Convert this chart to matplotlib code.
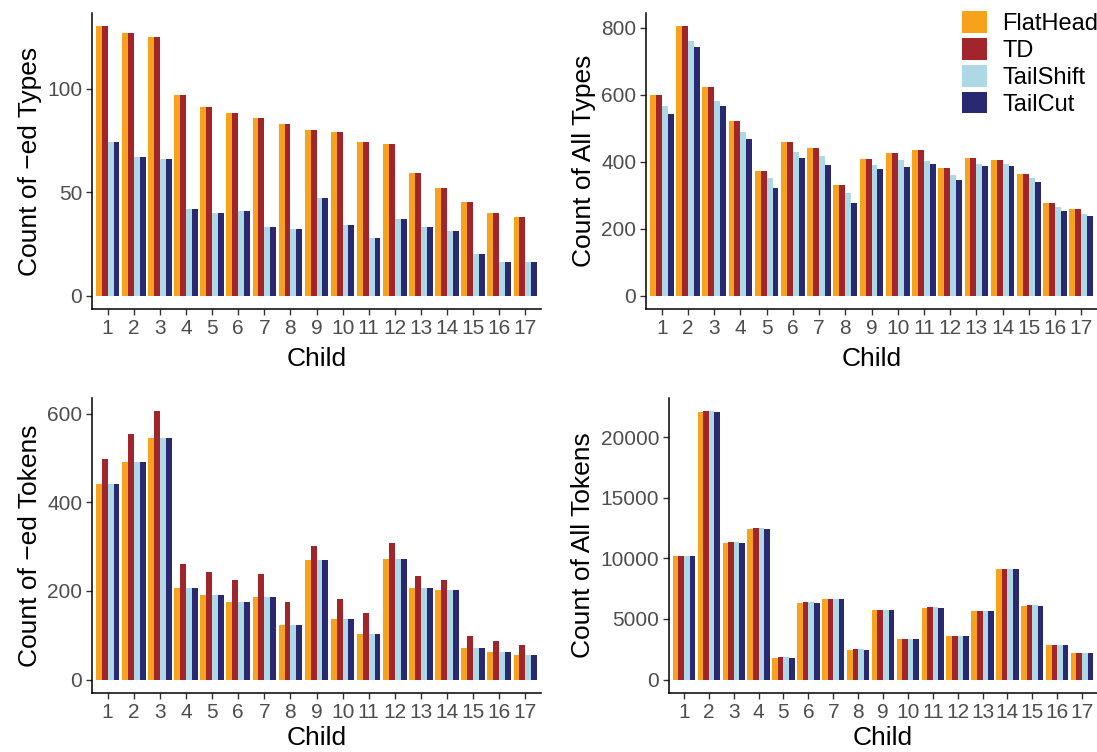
import numpy as np
import matplotlib
matplotlib.use('Agg')
import matplotlib.pyplot as plt
from matplotlib.patches import Patch

plt.rcParams['font.family'] = ['Liberation Sans', 'DejaVu Sans']

# ── data ───────────────────────────────────────────
children = [str(i) for i in range(1, 18)]
methods = ['FlatHead', 'TD', 'TailShift', 'TailCut']
colors = ['#F7A21D', '#A1252B', '#ADD8E6', '#2B2872']

# -ed types
ed_types_flathead = [130, 127, 125, 97, 91, 88, 86, 83, 80, 79, 74, 73, 59, 52, 45, 40, 38]
ed_types_td = [130, 127, 125, 97, 91, 88, 86, 83, 80, 79, 74, 73, 59, 52, 45, 40, 38]
ed_types_tailshift = [74, 67, 66, 42, 40, 41, 33, 32, 47, 34, 28, 37, 33, 31, 20, 16, 16]
ed_types_tailcut = [74, 67, 66, 42, 40, 41, 33, 32, 47, 34, 28, 37, 33, 31, 20, 16, 16]

# all types
all_types_flathead = [598, 804, 622, 523, 371, 460, 442, 329, 409, 427, 436, 380, 412, 406, 362, 278, 260]
all_types_td = [598, 804, 622, 523, 371, 460, 442, 329, 409, 427, 436, 380, 412, 406, 362, 278, 260]
all_types_tailshift = [565, 762, 580, 490, 350, 430, 418, 305, 389, 406, 403, 359, 392, 392, 350, 266, 245]
all_types_tailcut = [541, 744, 565, 469, 320, 412, 389, 278, 377, 383, 392, 344, 386, 386, 338, 254, 239]

# -ed tokens
ed_tokens_flathead = [441, 490, 544, 207, 191, 175, 187, 124, 270, 137, 103, 272, 207, 202, 72, 63, 56]
ed_tokens_td = [497, 553, 605, 261, 243, 225, 238, 175, 301, 182, 151, 308, 234, 225, 99, 88, 79]
ed_tokens_tailshift = [441, 490, 544, 207, 191, 175, 187, 124, 270, 137, 103, 272, 207, 202, 72, 63, 56]
ed_tokens_tailcut = [441, 490, 544, 207, 191, 175, 187, 124, 270, 137, 103, 272, 207, 202, 72, 63, 56]

# all tokens
all_tokens_flathead = [10200, 22050, 11270, 12420, 1810, 6340, 6660, 2470, 5760, 3370, 5920, 3620, 5680, 9130, 6090, 2880, 2220]
all_tokens_td = [10200, 22130, 11350, 12510, 1890, 6420, 6660, 2550, 5760, 3370, 6000, 3620, 5680, 9130, 6170, 2880, 2220]
all_tokens_tailshift = [10200, 22130, 11350, 12510, 1890, 6420, 6660, 2550, 5760, 3370, 6000, 3620, 5680, 9130, 6170, 2880, 2220]
all_tokens_tailcut = [10200, 22050, 11270, 12420, 1810, 6340, 6660, 2470, 5760, 3370, 5920, 3620, 5680, 9130, 6090, 2880, 2220]

panels = [
  ([ed_types_flathead, ed_types_td, ed_types_tailshift, ed_types_tailcut],
   'Count of \u2212ed Types', [0, 50, 100]),
  ([all_types_flathead, all_types_td, all_types_tailshift, all_types_tailcut],
   'Count of All Types', [0, 200, 400, 600, 800]),
  ([ed_tokens_flathead, ed_tokens_td, ed_tokens_tailshift, ed_tokens_tailcut],
   'Count of \u2212ed Tokens', [0, 200, 400, 600]),
  ([all_tokens_flathead, all_tokens_td, all_tokens_tailshift, all_tokens_tailcut],
   'Count of All Tokens', [0, 5000, 10000, 15000, 20000]),
]

# axes rectangles in figure fractions (left, bottom, width, height)
W, H = 1097, 752
rects = [
  (92 / W, (H - 309) / H, 449 / W, 296 / H),
  (646 / W, (H - 309) / H, 451 / W, 296 / H),
  (92 / W, (H - 693) / H, 449 / W, 295 / H),
  (669 / W, (H - 693) / H, 428 / W, 295 / H),
]
xlabel_pads = [7, 7, 3, 3]  # bottom row kept inside the canvas

fig = plt.figure(figsize=(W / 100, H / 100), dpi=100)

x = np.arange(1, len(children) + 1)
bw = 0.9 / 4

for (series, ylabel, yticks), rect, pad in zip(panels, rects, xlabel_pads):
  ax = fig.add_axes(rect)
  for k, (vals, col) in enumerate(zip(series, colors)):
    ax.bar(x - 0.45 + bw * (k + 0.5), vals, width=bw, color=col, linewidth=0)

  ymax = max(max(s) for s in series)
  ax.set_xlim(0.4, len(children) + 0.6)
  ax.set_ylim(-0.05 * ymax, 1.05 * ymax)
  ax.set_xticks(x)
  ax.set_xticklabels(children)
  ax.set_yticks(yticks)
  ax.set_xlabel('Child', fontsize=19, color='black', labelpad=pad)
  ax.set_ylabel(ylabel, fontsize=19, color='black', labelpad=4)
  ax.tick_params(axis='both', labelsize=15, labelcolor='#4D4D4D',
                 color='#333333', length=4, width=1.0, pad=3)
  for side in ['top', 'right']:
    ax.spines[side].set_visible(False)
  for side in ['left', 'bottom']:
    ax.spines[side].set_linewidth(1.1)
    ax.spines[side].set_color('black')

handles = [Patch(facecolor=c, edgecolor='none') for c in colors]
fig.legend(handles, methods, loc='upper left',
           bbox_to_anchor=(962 / W, 1 - 11 / H), frameon=False,
           fontsize=17, handlelength=1.05, handleheight=1.05,
           labelspacing=0.12, handletextpad=0.65, borderpad=0,
           borderaxespad=0)

fig.savefig('out.png', dpi=100)
